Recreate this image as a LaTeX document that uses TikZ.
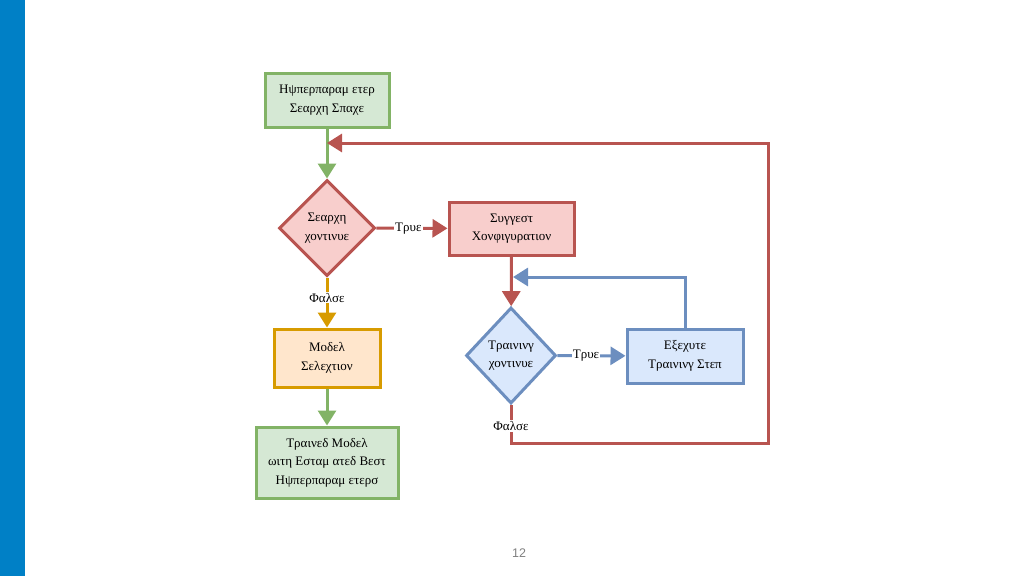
\documentclass[tikz,border=0pt]{standalone}
\usepackage{fontspec}
\setmainfont{Liberation Serif}
\newfontfamily\pagenumfont{Liberation Sans}
\usetikzlibrary{shapes.geometric,arrows.meta}
\definecolor{gfill}{HTML}{D5E8D4}\definecolor{gline}{HTML}{82B366}
\definecolor{rfill}{HTML}{F8CECC}\definecolor{rline}{HTML}{B85450}
\definecolor{bfill}{HTML}{DAE8FC}\definecolor{bline}{HTML}{6C8EBF}
\definecolor{ofill}{HTML}{FFE6CC}\definecolor{oline}{HTML}{D79B00}
\definecolor{barblue}{HTML}{0080C6}
\tikzset{
  box/.style={draw, line width=3pt, rectangle, align=center, inner sep=0pt,
    font=\fontsize{13}{18.5}\selectfont},
  dia/.style={draw, line width=3pt, diamond, align=center, inner sep=0pt,
    minimum width=96pt, minimum height=96pt, font=\fontsize{13}{18.5}\selectfont},
  conn/.style={line width=3pt, -{Triangle[length=15pt,width=18pt]}},
  lbl/.style={fill=white, text=black, inner sep=1pt, font=\fontsize{13}{14}\selectfont}
}
\begin{document}
\begin{tikzpicture}[x=1pt,y=-1pt]
\useasboundingbox (0,0) rectangle (1024,576);
\fill[barblue] (0,0) rectangle (25,576);
\node[box, fill=gfill, draw=gline, minimum width=124pt, minimum height=54pt] (hs) at (327,100) {Ηψπερπαραμ ετερ\\Σεαρχη Σπαχε};
\node[dia, fill=rfill, draw=rline] (sc) at (327,228) {Σεαρχη\\χοντινυε};
\node[box, fill=rfill, draw=rline, minimum width=125pt, minimum height=53pt] (sg) at (511.5,228.5) {Συγγεστ\\Χονφιγυρατιον};
\node[dia, fill=bfill, draw=bline, minimum width=90pt] (tc) at (511,355.5) {Τραινινγ\\χοντινυε};
\node[box, fill=bfill, draw=bline, minimum width=116pt, minimum height=54pt] (ex) at (685,356) {Εξεχυτε\\Τραινινγ Στεπ};
\node[box, fill=ofill, draw=oline, minimum width=106pt, minimum height=58pt] (ms) at (327,358) {Μοδελ\\Σελεχτιον};
\node[box, fill=gfill, draw=gline, minimum width=142pt, minimum height=71pt] (tm) at (327,462.5) {Τραινεδ Μοδελ\\ωιτη Εσταμ ατεδ Βεστ\\Ηψπερπαραμ ετερσ};
\coordinate (j) at (327,143);
\coordinate (bj) at (513,277);
\draw[conn, gline] (hs) -- (sc);
\draw[conn, rline] (sc) -- node[lbl, pos=0.45]{Τρυε} (sg);
\draw[conn, rline] (sg) -- (tc);
\draw[conn, bline] (tc) -- node[lbl, pos=0.42]{Τρυε} (ex);
\draw[conn, bline] (ex.north) |- (bj);
\draw[conn, rline] (tc.south) -- node[lbl, pos=0.55]{Φαλσε} (511,443) -- (768,443) -- (768,143) -- (j);
\draw[conn, oline] (sc) -- node[lbl, pos=0.4]{Φαλσε} (ms);
\draw[conn, gline] (ms) -- (tm);
\node[font=\pagenumfont\fontsize{12.5}{14}\selectfont, text=gray] (pn) at (519,553) {12};
\end{tikzpicture}
\end{document}
